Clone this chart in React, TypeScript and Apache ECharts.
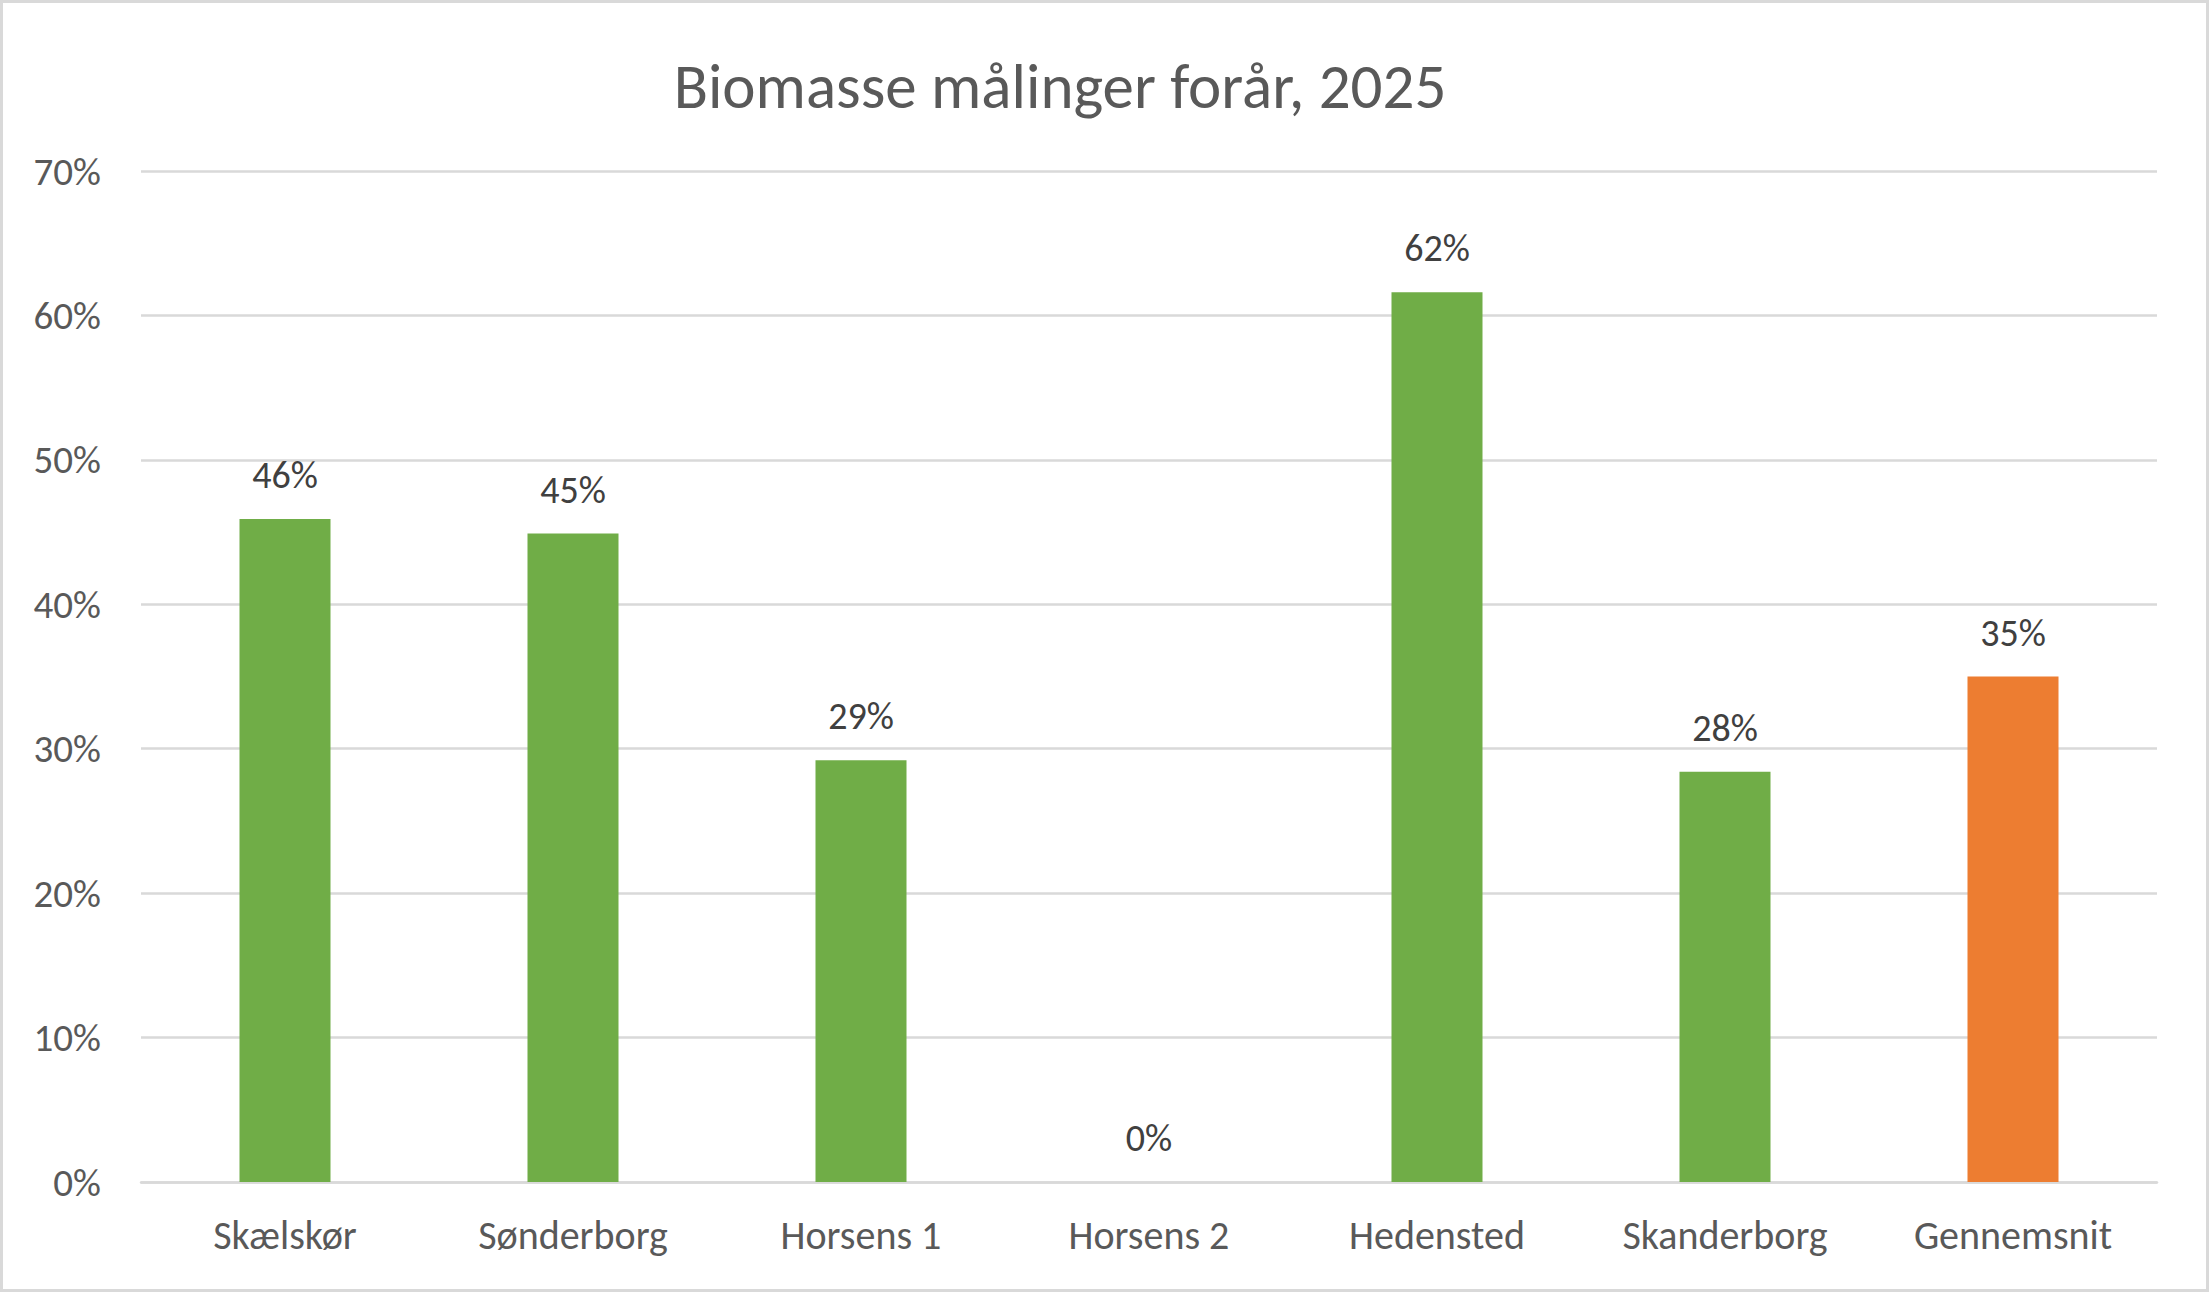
import React, { useEffect, useRef } from "react";
import * as echarts from "echarts";

const categories = ["Skælskør", "Sønderborg", "Horsens 1", "Horsens 2", "Hedensted", "Skanderborg", "Gennemsnit"];
const values = [0.459, 0.449, 0.292, 0, 0.616, 0.284, 0.35];
const barColors = ["#70AD47", "#70AD47", "#70AD47", "#70AD47", "#70AD47", "#70AD47", "#ED7D31"];
const titleText = "Biomasse målinger forår, 2025";

const FONT = "Carlito, Calibri, Lato, sans-serif";

export default function App() {
  const ref = useRef<HTMLDivElement>(null);
  useEffect(() => {
    if (!ref.current) return;
    const chart = echarts.init(ref.current, null, { renderer: "svg" });
    chart.setOption({
      animation: false,
      backgroundColor: "#FFFFFF",
      textStyle: { fontFamily: FONT },
      graphic: [
        {
          type: "rect",
          shape: { x: 1.5, y: 1.5, width: 2206, height: 1289 },
          style: { fill: "none", stroke: "#D9D9D9", lineWidth: 3 },
          silent: true,
        },
        {
          type: "text",
          x: 1060,
          y: 86,
          style: {
            text: titleText,
            fontFamily: FONT,
            fontSize: 63,
            fill: "#595959",
            textAlign: "center",
            textVerticalAlign: "middle",
          },
        },
      ],
      grid: { left: 141, right: 52, top: 171, bottom: 110, containLabel: false },
      xAxis: {
        type: "category",
        data: categories,
        axisLine: { show: true, lineStyle: { color: "#D9D9D9", width: 2.5 } },
        axisTick: { show: false },
        axisLabel: { color: "#595959", fontSize: 40, fontFamily: FONT, margin: 33, interval: 0 },
      },
      yAxis: {
        type: "value",
        min: 0,
        max: 0.7,
        interval: 0.1,
        axisLine: { show: false },
        axisTick: { show: false },
        splitLine: { lineStyle: { color: "#D9D9D9", width: 2.5 } },
        axisLabel: {
          color: "#595959",
          fontSize: 39,
          fontFamily: FONT,
          margin: 40,
          formatter: (v: number) => Math.round(v * 100) + "%",
        },
      },
      series: [
        {
          type: "bar",
          barWidth: "31.6%",
          data: values.map((v, i) => ({ value: v, itemStyle: { color: barColors[i] } })),
          label: {
            show: true,
            position: "top",
            distance: 25,
            color: "#404040",
            fontSize: 38,
            fontFamily: FONT,
            formatter: (p: any) => Math.round(p.value * 100) + "%",
          },
        },
      ],
    });
    return () => chart.dispose();
  }, []);
  return (
    <div
      ref={ref}
      style={{ position: "fixed", left: 0, top: 0, width: "2209px", height: "1292px" }}
    />
  );
}
